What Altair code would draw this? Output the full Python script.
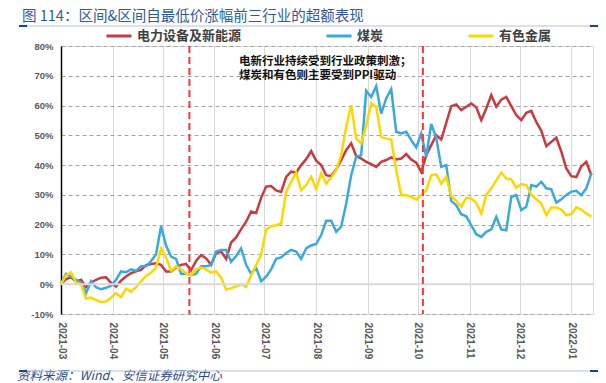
import altair as alt
import pandas as pd

# ---- data ----
start_date = "2021-03-01"
step_days = 3
series_names = ["电力设备及新能源", "煤炭", "有色金属"]
series_colors = ["#C93A40", "#3AA9DD", "#FFD700"]

elec = [0, 1.7, 2.3, 0.9, 1.5, -1.0, 0.5, 1.5, 2.2, 2.3,
        0.5, -0.8, 1.2, 2.6, 3.7, 4.3, 4.8, 6.4, 6.8, 7.0,
        6.5, 4.3, 4.3, 5.7, 6.5, 6.8, 4.7, 7.8, 9.8, 8.7,
        6.5, 10.5, 11.0, 8.5, 14.0, 15.7, 18.5, 21.0, 24.4, 23.9,
        29.0, 32.8, 33.0, 31.5, 31.0, 36.0, 37.8, 37.5, 40.0, 42.0,
        44.7, 41.5, 40.0, 36.6, 36.3, 38.5, 41.7, 45.0, 47.3, 43.0,
        42.2, 41.1, 40.3, 39.4, 41.1, 41.7, 42.6, 41.9, 42.2, 43.7,
        41.9, 40.8, 37.7, 43.3, 46.7, 50.0, 48.6, 54.2, 59.8, 60.4,
        58.5, 59.6, 60.7, 59.4, 55.1, 59.0, 63.5, 59.6, 62.0, 62.9,
        59.8, 56.8, 55.1, 57.6, 58.2, 54.5, 51.5, 46.4, 47.8, 49.2,
        44.5, 38.9, 36.3, 36.0, 39.6, 41.1, 36.6]

coal = [0, 3.5, 2.5, 1.5, 0.5, -3.0, 1.0, -1.0, -1.7, -1.2,
        -0.5, 1.5, 4.3, 4.0, 5.0, 4.5, 6.0, 6.0, 7.8, 10.0,
        19.5, 13.0, 9.3, 8.5, 3.5, 3.5, 3.0, 3.5, 6.0, 6.0,
        6.5, 11.0, 11.5, 11.5, 7.5, 9.5, 12.0, 6.5, 3.5, 5.5,
        1.0, 2.5, 5.0, 8.5, 9.0, 10.5, 11.5, 11.0, 8.5, 12.0,
        13.0, 13.5, 16.5, 21.3, 21.3, 17.6, 19.3, 27.0, 36.6, 42.8,
        43.3, 65.0, 62.9, 66.5, 57.3, 62.4, 65.5, 51.2, 50.6, 51.2,
        48.4, 45.9, 50.6, 42.8, 53.8, 49.2, 39.4, 40.0, 28.0, 26.5,
        23.5, 22.8, 19.8, 16.8, 15.9, 17.6, 18.4, 22.6, 18.4, 18.1,
        29.3, 30.0, 24.9, 26.0, 33.3, 32.8, 34.4, 32.2, 31.9, 27.4,
        28.5, 30.0, 31.1, 31.4, 29.9, 32.2, 37.2]

metal = [0, 3.0, 4.0, 0.5, 0.0, -4.8, -4.5, -5.3, -6.0, -5.8,
         -4.5, -3.0, -4.3, -1.5, -2.5, -1.0, 1.0, 2.8, 3.9, 5.5,
         12.0, 9.0, 4.5, 6.0, 5.0, 3.6, 3.0, 5.0, 5.6, 5.0,
         3.9, 4.4, 2.2, -1.8, -1.3, -0.7, 0.0, -0.9, 3.0, 6.4,
         10.0, 18.4, 19.5, 19.8, 20.4, 31.0, 34.4, 37.5, 31.6, 33.3,
         36.1, 32.0, 37.2, 33.8, 35.8, 38.3, 43.3, 52.9, 60.1, 49.0,
         47.3, 53.2, 60.7, 59.6, 49.5, 48.9, 48.6, 38.3, 29.9, 29.9,
         29.3, 28.4, 29.9, 31.6, 36.6, 36.9, 33.8, 36.1, 29.6, 28.0,
         26.0, 29.0, 28.8, 27.3, 23.7, 30.0, 32.2, 34.9, 37.5, 35.5,
         35.2, 32.4, 33.6, 33.3, 30.0, 28.5, 27.1, 23.2, 25.8, 25.8,
         25.1, 23.2, 23.5, 25.8, 25.1, 23.7, 22.8]

policy_dates = ["2021-05-17", "2021-10-04"]
y_ticks = [-10, 0, 10, 20, 30, 40, 50, 60, 70, 80]

title_text = "图 114：区间&区间自最低价涨幅前三行业的超额表现"
note_text = "电新行业持续受到行业政策刺激；\n煤炭和有色则主要受到PPI驱动"
source_text = "资料来源：Wind、安信证券研究中心"

FONT = "Noto Sans CJK SC"

# ---- build table ----
n = len(elec)
dates = pd.date_range(start_date, periods=n, freq=f"{step_days}D")
df = pd.DataFrame({
    "date": list(dates) * 3,
    "value": elec + coal + metal,
    "series": [series_names[0]] * n + [series_names[1]] * n + [series_names[2]] * n,
})

x_scale = alt.Scale(domain=[alt.DateTime(year=2021, month=3, date=1),
                            alt.DateTime(year=2022, month=1, date=14)])
x_axis = alt.Axis(format="%Y-%m", tickCount={"interval": "month", "step": 1},
                  labelAngle=90, grid=True, gridColor="#D9D9D9", gridWidth=1,
                  domain=False, ticks=False, labelFontSize=10, labelFontWeight="bold",
                  labelColor="#595959", labelPadding=8, labelOverlap=False,
                  labelFlush=False, labelFont="Liberation Sans", title=None)
y_scale = alt.Scale(domain=[-10, 80], nice=False)
y_axis = alt.Axis(values=y_ticks, tickCount=10, labelExpr="datum.value + '%'", grid=True,
                  gridDash=[4, 3], gridColor="#A6A6A6", gridWidth=1,
                  domainColor="#000000", domainWidth=1.5, ticks=False,
                  labelFontSize=9.5, labelFontWeight="bold", labelColor="#595959",
                  labelPadding=8, labelOverlap=False, labelFlush=False,
                  labelFont="Liberation Sans", title=None)

x_enc = alt.X("date:T", scale=x_scale, axis=x_axis)
y_enc = alt.Y("value:Q", scale=y_scale, axis=y_axis)
color_enc = alt.Color(
    "series:N",
    scale=alt.Scale(domain=series_names, range=series_colors),
    legend=alt.Legend(orient="none", legendX=44, legendY=-24, direction="horizontal",
                      title=None, symbolType="stroke", symbolStrokeWidth=3,
                      symbolSize=625, labelFontSize=13, labelFontWeight="bold",
                      labelColor="#404040", labelFont=FONT, columnPadding=78,
                      labelOffset=4),
)

base = alt.Chart(df)
lines = [
    base.transform_filter(alt.datum.series == name)
    .mark_line(strokeWidth=2.5)
    .encode(x=x_enc, y=y_enc, color=color_enc)
    for name in series_names
]

zero_rule = alt.Chart(pd.DataFrame({"value": [0]})).mark_rule(
    color="#D9D9D9", strokeWidth=2).encode(y=y_enc)

policy = alt.Chart(pd.DataFrame({"date": policy_dates})).mark_rule(
    color="#FF3333", strokeDash=[7, 4], strokeWidth=2).encode(x=x_enc)

note = alt.Chart(pd.DataFrame({"t": [note_text]})).mark_text(
    align="left", baseline="top", font=FONT, fontSize=11.5, fontWeight="bold",
    color="#111111", lineBreak="\n", lineHeight=14,
).encode(text="t:N", x=alt.value(178), y=alt.value(10))

title = alt.Chart(pd.DataFrame({"t": [title_text]})).mark_text(
    align="left", baseline="middle", font=FONT, fontSize=14.5, color="#2E5A9C",
).encode(text="t:N", x=alt.value(-39), y=alt.value(-29))

source = alt.Chart(pd.DataFrame({"t": [source_text]})).mark_text(
    align="left", baseline="middle", font=FONT, fontSize=12.5, fontStyle="italic",
    color="#2B4A8F",
).encode(text="t:N", x=alt.value(-44), y=alt.value(330))

def hline(x1, x2, y, color, w):
    return alt.Chart(pd.DataFrame({"a": [0]})).mark_rule(color=color, strokeWidth=w).encode(
        x=alt.value(x1), x2=alt.value(x2), y=alt.value(y))

decor = [
    hline(-42, 537, -20, "#B4C3DD", 1),
    hline(-42, -34, -20, "#1F3F8F", 2),
    hline(529, 537, -20, "#1F3F8F", 2),
    hline(-42, 537, 325, "#B4C3DD", 1),
    hline(-42, -34, 325, "#1F3F8F", 2),
    hline(529, 537, 325, "#1F3F8F", 2),
]

chart = alt.layer(*lines, zero_rule, policy, note, title, source, *decor).properties(
    width=532, height=268,
    autosize=alt.AutoSizeParams(type="none"),
    padding={"left": 53, "top": 38, "right": 5, "bottom": 69},
).configure_view(stroke=None).configure(background="white")

chart.save("out.html", embed_options={"renderer": "svg", "actions": False})
